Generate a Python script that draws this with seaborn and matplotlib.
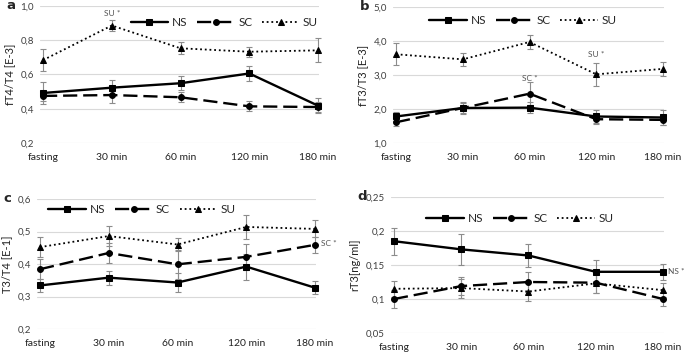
import numpy as np
import pandas as pd
import seaborn as sns
import matplotlib.pyplot as plt

sns.set_style("white")
plt.rcParams["font.family"] = ["Lato", "DejaVu Sans"]

# time points (x categories)
times = ["fasting", "30 min", "60 min", "120 min", "180 min"]
groups = ["NS", "SC", "SU"]

# panel a: fT4/T4 [E-3]
a_ns = [0.492, 0.523, 0.549, 0.606, 0.418]
a_sc = [0.475, 0.480, 0.467, 0.414, 0.410]
a_su = [0.684, 0.886, 0.753, 0.733, 0.741]
a_ns_err = [0.065, 0.045, 0.040, 0.042, 0.045]
a_sc_err = [0.030, 0.045, 0.030, 0.030, 0.030]
a_su_err = [0.063, 0.030, 0.035, 0.030, 0.070]

# panel b: fT3/T3 [E-3]
b_ns = [1.78, 2.03, 2.04, 1.78, 1.75]
b_sc = [1.61, 2.03, 2.45, 1.70, 1.68]
b_su = [3.61, 3.46, 3.97, 3.02, 3.18]
b_ns_err = [0.12, 0.17, 0.17, 0.18, 0.22]
b_sc_err = [0.12, 0.15, 0.33, 0.15, 0.15]
b_su_err = [0.32, 0.20, 0.20, 0.33, 0.20]

# panel c: T3/T4 [E-1]
c_ns = [0.334, 0.358, 0.343, 0.392, 0.327]
c_sc = [0.384, 0.434, 0.399, 0.422, 0.459]
c_su = [0.452, 0.486, 0.460, 0.514, 0.508]
c_ns_err = [0.020, 0.022, 0.030, 0.040, 0.020]
c_sc_err = [0.030, 0.030, 0.045, 0.040, 0.025]
c_su_err = [0.030, 0.030, 0.020, 0.038, 0.026]

# panel d: rT3 [ng/ml]
d_ns = [0.185, 0.173, 0.164, 0.140, 0.140]
d_sc = [0.100, 0.119, 0.125, 0.124, 0.100]
d_su = [0.115, 0.116, 0.111, 0.123, 0.113]
d_ns_err = [0.020, 0.023, 0.017, 0.017, 0.012]
d_sc_err = [0.013, 0.013, 0.015, 0.015, 0.010]
d_su_err = [0.012, 0.014, 0.014, 0.014, 0.010]

a_ticks = [0.2, 0.4, 0.6, 0.8, 1.0]
a_ticklabels = ["0,2", "0,4", "0,6", "0,8", "1,0"]
b_ticks = [1, 2, 3, 4, 5]
b_ticklabels = ["1,0", "2,0", "3,0", "4,0", "5,0"]
c_ticks = [0.2, 0.3, 0.4, 0.5, 0.6]
c_ticklabels = ["0,2", "0,3", "0,4", "0,5", "0,6"]
d_ticks = [0.05, 0.1, 0.15, 0.2, 0.25]
d_ticklabels = ["0,05", "0,1", "0,15", "0,2", "0,25"]

styles = {
    "NS": dict(marker="s", dashes=None, lw=1.7, ms=4.2),
    "SC": dict(marker="o", dashes=(6, 2.5), lw=1.7, ms=4.2),
    "SU": dict(marker="^", dashes=(1, 1.6), lw=1.3, ms=4.2),
}

W, H = 685, 353
fig = plt.figure(figsize=(W / 100, H / 100), dpi=100)


def px_axes(left, right, top, bottom):
    return fig.add_axes([left / W, 1 - bottom / H, (right - left) / W, (bottom - top) / H])


def draw_panel(ax, series, errors, ticks, ticklabels, ylabel, letter, leg_pos, xlim):
    x = np.arange(len(times))
    for g, vals, err in zip(groups, series, errors):
        df = pd.DataFrame({"t": x, "v": vals})
        st = styles[g]
        ax.errorbar(x, vals, yerr=err, fmt="none", ecolor="#8c8c8c",
                    elinewidth=0.8, capsize=2.5, capthick=0.8, zorder=2, clip_on=False)
        sns.lineplot(data=df, x="t", y="v", ax=ax, color="black",
                     marker=st["marker"], markersize=st["ms"],
                     markeredgecolor="black", linewidth=st["lw"],
                     label=g, zorder=3, clip_on=False)
        if st["dashes"] is not None:
            ax.lines[-1].set_dashes(st["dashes"])
    ax.set_xlim(*xlim)
    ax.set_ylim(ticks[0], ticks[-1])
    ax.set_yticks(ticks)
    ax.set_yticklabels(ticklabels, fontsize=7, color="#404040")
    ax.set_xticks(x)
    ax.set_xticklabels(times, fontsize=7.5, color="#222222")
    ax.set_xlabel("")
    ax.set_ylabel(ylabel, fontsize=8, color="#222222", labelpad=4)
    for s in ax.spines.values():
        s.set_visible(False)
    ax.grid(axis="y", color="#d9d9d9", linewidth=0.8)
    ax.tick_params(axis="y", length=0, pad=4)
    ax.tick_params(axis="x", length=3, color="#d9d9d9", pad=4, direction="out")
    ax.set_axisbelow(True)
    ax.legend(loc="center", bbox_to_anchor=leg_pos, ncol=3, frameon=False,
              fontsize=8.5, handlelength=3.2, columnspacing=0.8, handletextpad=0.3)
    ax.text(-0.12, 1.0, letter, transform=ax.transAxes, fontsize=9.5,
            fontweight="bold", family="DejaVu Sans", ha="left", va="center")


ax_a = px_axes(39.6, 319.4, 6, 143)
draw_panel(ax_a, [a_ns, a_sc, a_su], [a_ns_err, a_sc_err, a_su_err],
           a_ticks, a_ticklabels, "fT4/T4 [E-3]", "a", (0.66, 0.88), (-0.05, 4.02))
ax_a.text(1, 0.955, "SU *", fontsize=6, color="#555555", ha="center", va="center")

ax_b = px_axes(392.7, 664.3, 7, 143)
draw_panel(ax_b, [b_ns, b_sc, b_su], [b_ns_err, b_sc_err, b_su_err],
           b_ticks, b_ticklabels, "fT3/T3 [E-3]", "b", (0.48, 0.90), (-0.05, 4.02))
ax_b.text(2, 2.9, "SC *", fontsize=6, color="#555555", ha="center", va="center")
ax_b.text(3, 3.6, "SU *", fontsize=6, color="#555555", ha="center", va="center")

ax_c = px_axes(36.6, 316.4, 199, 329)
draw_panel(ax_c, [c_ns, c_sc, c_su], [c_ns_err, c_sc_err, c_su_err],
           c_ticks, c_ticklabels, "T3/T4 [E-1]", "c", (0.377, 0.92), (-0.05, 4.02))
ax_c.text(4.08, 0.462, "SC *", fontsize=6, color="#555555", ha="left", va="center")

ax_d = px_axes(390.6, 664.3, 197, 333)
draw_panel(ax_d, [d_ns, d_sc, d_su], [d_ns_err, d_sc_err, d_su_err],
           d_ticks, d_ticklabels, "rT3[ng/ml]", "d", (0.473, 0.84), (-0.05, 4.02))
ax_d.text(4.07, 0.141, "NS *", fontsize=6, color="#555555", ha="left", va="center")

fig.savefig("out.png", dpi=100)
